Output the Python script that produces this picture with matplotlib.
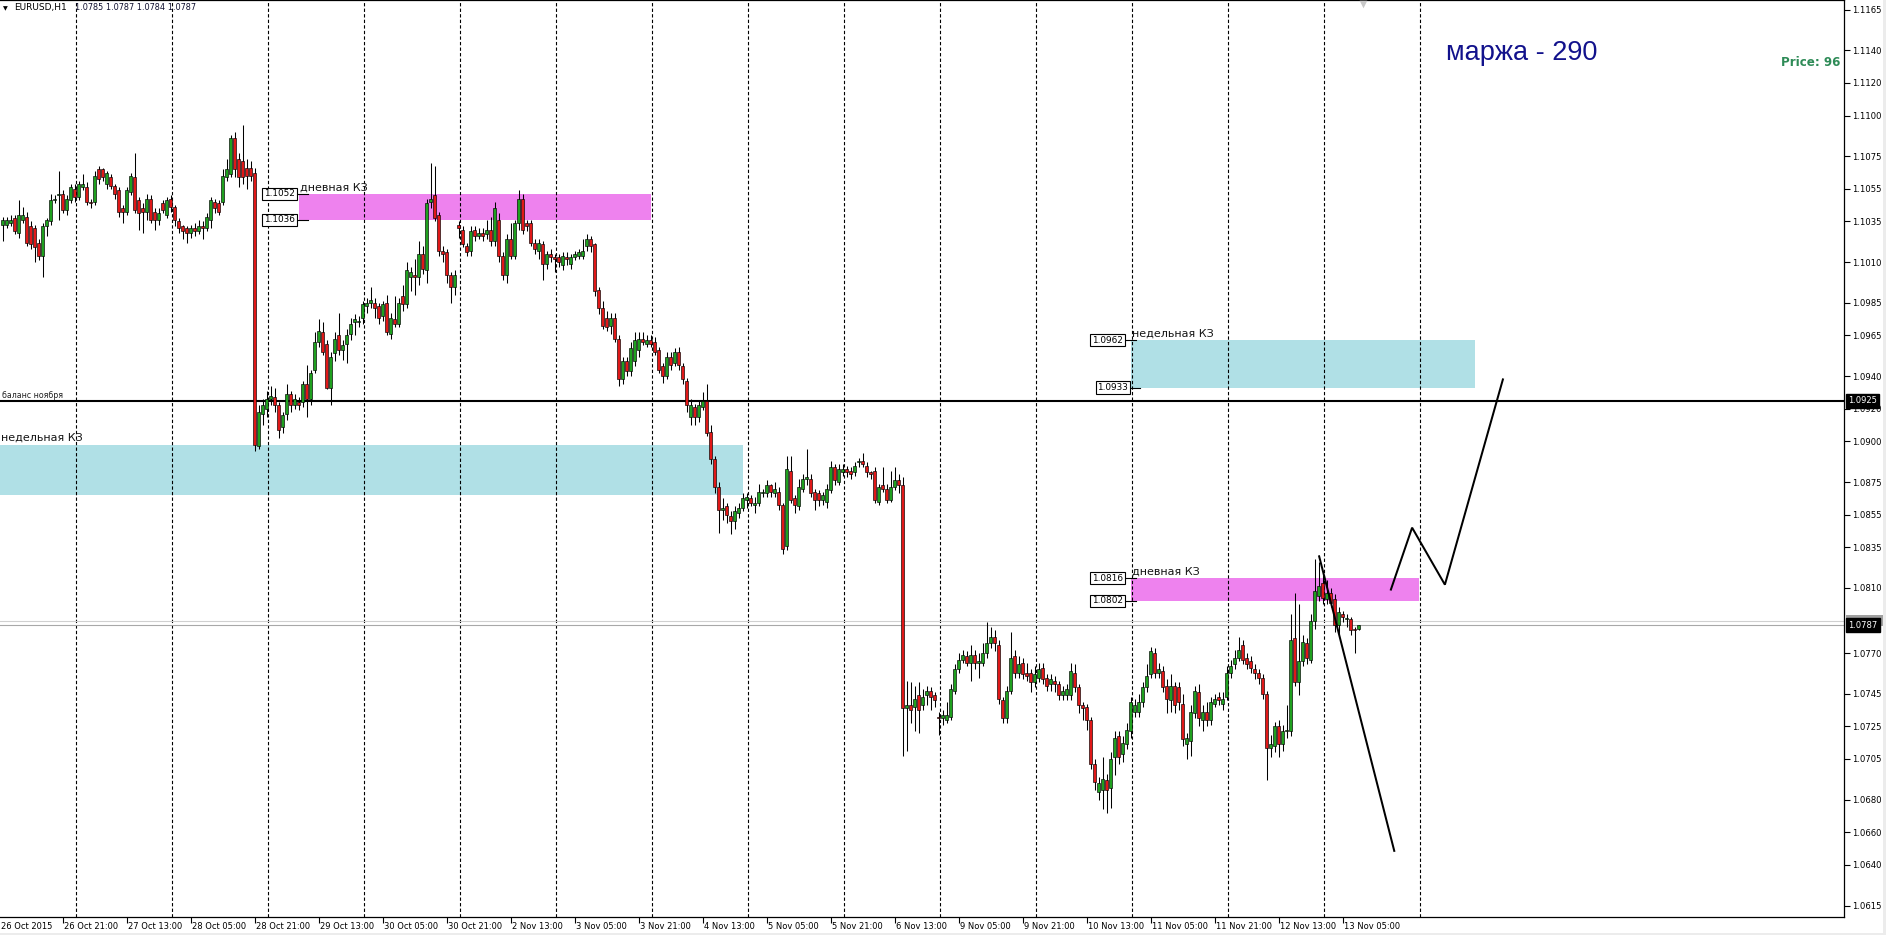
import matplotlib
matplotlib.use('Agg')
import matplotlib.pyplot as plt
from matplotlib.patches import Rectangle
from matplotlib.transforms import blended_transform_factory, ScaledTranslation

plt.rcParams['font.family'] = ['DejaVu Sans']
plt.rcParams['lines.scale_dashes'] = False

# ---------------- data ----------------
symbol = 'EURUSD,H1'
last_ohlc = ['1.0785', '1.0787', '1.0784', '1.0787']
first_bar = 1  # bar 0 = 26 Oct 05:00 (H1 bars, weekends skipped)

opens = [
    1.1033, 1.1033, 1.1034, 1.1037, 1.1028, 1.1036, 1.1038, 1.1032, 1.1031, 1.1022, 1.1014, 1.1032,
    1.1035, 1.1048, 1.1051, 1.1052, 1.1042, 1.1048, 1.1055, 1.1050, 1.1056, 1.1056, 1.1047, 1.1047,
    1.1067, 1.1067, 1.1058, 1.1062, 1.1057, 1.1054, 1.1043, 1.1041, 1.1053, 1.1062, 1.1048, 1.1043,
    1.1041, 1.1049, 1.1041, 1.1036, 1.1046, 1.1039, 1.1049, 1.1044, 1.1035, 1.1032, 1.1031, 1.1028,
    1.1031, 1.1029, 1.1032, 1.1031, 1.1036, 1.1047, 1.1046, 1.1047, 1.1062, 1.1064, 1.1086, 1.1073,
    1.1072, 1.1068, 1.1068, 1.1065, 1.0897, 1.0917, 1.0920, 1.0926, 1.0927, 1.0922, 1.0909, 1.0917,
    1.0929, 1.0922, 1.0924, 1.0924, 1.0935, 1.0926, 1.0944, 1.0961, 1.0967, 1.0960, 1.0933, 1.0954,
    1.0965, 1.0956, 1.0960, 1.0966, 1.0973, 1.0973, 1.0976, 1.0983, 1.0985, 1.0985, 1.0983, 1.0977,
    1.0985, 1.0966, 1.0975, 1.0972, 1.0989, 1.0984, 1.1001, 1.1002, 1.1001, 1.1015, 1.1005, 1.1047,
    1.1051, 1.1039, 1.1017, 1.1016, 1.1002, 1.0995, 1.1033, 1.1030, 1.1020, 1.1017, 1.1030, 1.1026,
    1.1028, 1.1027, 1.1030, 1.1023, 1.1036, 1.1014, 1.1002, 1.1024, 1.1014, 1.1034, 1.1049, 1.1034,
    1.1034, 1.1022, 1.1017, 1.1021, 1.1009, 1.1015, 1.1013, 1.1013, 1.1008, 1.1013, 1.1009, 1.1013,
    1.1014, 1.1014, 1.1020, 1.1024, 1.1021, 1.0993, 1.0982, 1.0976, 1.0971, 1.0976, 1.0963, 1.0938,
    1.0949, 1.0943, 1.0949, 1.0956, 1.0963, 1.0960, 1.0962, 1.0961, 1.0956, 1.0946, 1.0940, 1.0952,
    1.0948, 1.0955, 1.0946, 1.0937, 1.0915, 1.0921, 1.0915, 1.0921, 1.0925, 1.0906, 1.0889, 1.0872,
    1.0858, 1.0860, 1.0854, 1.0851, 1.0856, 1.0859, 1.0864, 1.0865, 1.0861, 1.0862, 1.0868, 1.0868,
    1.0873, 1.0868, 1.0869, 1.0861, 1.0836, 1.0882, 1.0865, 1.0860, 1.0871, 1.0877, 1.0877, 1.0869,
    1.0868, 1.0864, 1.0863, 1.0870, 1.0884, 1.0875, 1.0881, 1.0883, 1.0882, 1.0881, 1.0887, 1.0888,
    1.0885, 1.0881, 1.0882, 1.0863, 1.0873, 1.0871, 1.0864, 1.0872, 1.0876, 1.0873, 1.0736, 1.0738,
    1.0737, 1.0744, 1.0738, 1.0744, 1.0747, 1.0744, 1.0731, 1.0730, 1.0729, 1.0731, 1.0747, 1.0760,
    1.0766, 1.0768, 1.0764, 1.0769, 1.0764, 1.0764, 1.0770, 1.0776, 1.0780, 1.0775, 1.0741, 1.0730,
    1.0747, 1.0768, 1.0758, 1.0764, 1.0758, 1.0758, 1.0752, 1.0755, 1.0761, 1.0755, 1.0751, 1.0753,
    1.0751, 1.0744, 1.0744, 1.0744, 1.0758, 1.0749, 1.0738, 1.0737, 1.0729, 1.0702, 1.0685, 1.0686,
    1.0692, 1.0687, 1.0706, 1.0719, 1.0708, 1.0714, 1.0722, 1.0734, 1.0734, 1.0740, 1.0749, 1.0757,
    1.0770, 1.0758, 1.0759, 1.0750, 1.0741, 1.0750, 1.0749, 1.0739, 1.0714, 1.0716, 1.0733, 1.0746,
    1.0729, 1.0734, 1.0729, 1.0739, 1.0743, 1.0739, 1.0743, 1.0758, 1.0763, 1.0767, 1.0775, 1.0767,
    1.0765, 1.0760, 1.0758, 1.0755, 1.0745, 1.0712, 1.0713, 1.0725, 1.0714, 1.0722, 1.0722, 1.0779,
    1.0752, 1.0765, 1.0776, 1.0766, 1.0790, 1.0805, 1.0813, 1.0803, 1.0807, 1.0803, 1.0787, 1.0794,
    1.0791, 1.0791, 1.0785, 1.0785,
]
highs = [
    1.1038, 1.1038, 1.1039, 1.1039, 1.1048, 1.1044, 1.1041, 1.1035, 1.1033, 1.1024, 1.1034, 1.1037,
    1.1052, 1.1051, 1.1066, 1.1054, 1.1051, 1.1058, 1.1058, 1.1060, 1.1064, 1.1059, 1.1049, 1.1066,
    1.1069, 1.1068, 1.1066, 1.1064, 1.1058, 1.1056, 1.1045, 1.1056, 1.1065, 1.1077, 1.1050, 1.1046,
    1.1052, 1.1051, 1.1043, 1.1043, 1.1048, 1.1050, 1.1051, 1.1045, 1.1037, 1.1033, 1.1032, 1.1033,
    1.1034, 1.1036, 1.1035, 1.1040, 1.1050, 1.1049, 1.1048, 1.1067, 1.1073, 1.1088, 1.1090, 1.1077,
    1.1094, 1.1073, 1.1072, 1.1068, 1.0922, 1.0926, 1.0931, 1.0934, 1.0933, 1.0924, 1.0918, 1.0935,
    1.0931, 1.0929, 1.0927, 1.0937, 1.0947, 1.0944, 1.0967, 1.0975, 1.0973, 1.0962, 1.0955, 1.0967,
    1.0979, 1.0962, 1.0969, 1.0976, 1.0978, 1.0977, 1.0986, 1.0988, 1.0995, 1.0988, 1.0985, 1.0986,
    1.0990, 1.0979, 1.0989, 1.0988, 1.0996, 1.1010, 1.1007, 1.1012, 1.1023, 1.1020, 1.1049, 1.1071,
    1.1069, 1.1041, 1.1020, 1.1018, 1.1004, 1.1005, 1.1035, 1.1032, 1.1022, 1.1032, 1.1032, 1.1031,
    1.1031, 1.1036, 1.1038, 1.1047, 1.1040, 1.1016, 1.1027, 1.1034, 1.1036, 1.1054, 1.1052, 1.1036,
    1.1036, 1.1024, 1.1024, 1.1023, 1.1017, 1.1018, 1.1015, 1.1015, 1.1016, 1.1016, 1.1015, 1.1017,
    1.1018, 1.1024, 1.1027, 1.1026, 1.1022, 1.0995, 1.0986, 1.0980, 1.0979, 1.0979, 1.0965, 1.0952,
    1.0952, 1.0961, 1.0967, 1.0967, 1.0967, 1.0965, 1.0965, 1.0964, 1.0958, 1.0948, 1.0955, 1.0955,
    1.0957, 1.0958, 1.0948, 1.0939, 1.0926, 1.0923, 1.0925, 1.0930, 1.0935, 1.0910, 1.0891, 1.0875,
    1.0865, 1.0862, 1.0857, 1.0860, 1.0862, 1.0868, 1.0868, 1.0867, 1.0866, 1.0874, 1.0871, 1.0876,
    1.0874, 1.0875, 1.0872, 1.0862, 1.0891, 1.0891, 1.0867, 1.0877, 1.0880, 1.0895, 1.0880, 1.0871,
    1.0870, 1.0869, 1.0874, 1.0888, 1.0886, 1.0886, 1.0886, 1.0885, 1.0884, 1.0887, 1.0890, 1.0893,
    1.0887, 1.0882, 1.0884, 1.0874, 1.0884, 1.0874, 1.0882, 1.0884, 1.0880, 1.0878, 1.0753, 1.0752,
    1.0750, 1.0752, 1.0748, 1.0750, 1.0749, 1.0746, 1.0734, 1.0735, 1.0740, 1.0751, 1.0763, 1.0770,
    1.0772, 1.0771, 1.0775, 1.0772, 1.0770, 1.0776, 1.0789, 1.0786, 1.0784, 1.0778, 1.0743, 1.0750,
    1.0783, 1.0772, 1.0768, 1.0767, 1.0764, 1.0760, 1.0762, 1.0764, 1.0764, 1.0757, 1.0757, 1.0756,
    1.0753, 1.0750, 1.0751, 1.0764, 1.0763, 1.0751, 1.0740, 1.0739, 1.0731, 1.0705, 1.0694, 1.0706,
    1.0696, 1.0709, 1.0722, 1.0722, 1.0719, 1.0727, 1.0743, 1.0742, 1.0745, 1.0752, 1.0763, 1.0774,
    1.0773, 1.0764, 1.0762, 1.0754, 1.0757, 1.0752, 1.0752, 1.0745, 1.0721, 1.0738, 1.0750, 1.0751,
    1.0738, 1.0740, 1.0743, 1.0745, 1.0746, 1.0746, 1.0762, 1.0766, 1.0772, 1.0780, 1.0778, 1.0770,
    1.0768, 1.0763, 1.0760, 1.0757, 1.0747, 1.0720, 1.0728, 1.0729, 1.0726, 1.0738, 1.0794, 1.0807,
    1.0800, 1.0781, 1.0779, 1.0794, 1.0828, 1.0826, 1.0818, 1.0815, 1.0810, 1.0806, 1.0798, 1.0796,
    1.0794, 1.0792, 1.0786, 1.0787,
]
lows = [
    1.1023, 1.1031, 1.1032, 1.1027, 1.1025, 1.1034, 1.1020, 1.1018, 1.1010, 1.1011, 1.1001, 1.1026,
    1.1033, 1.1046, 1.1036, 1.1040, 1.1039, 1.1046, 1.1047, 1.1048, 1.1054, 1.1045, 1.1043, 1.1045,
    1.1058, 1.1060, 1.1055, 1.1055, 1.1049, 1.1038, 1.1034, 1.1039, 1.1051, 1.1040, 1.1030, 1.1028,
    1.1036, 1.1034, 1.1030, 1.1033, 1.1040, 1.1037, 1.1041, 1.1032, 1.1028, 1.1024, 1.1022, 1.1025,
    1.1026, 1.1027, 1.1024, 1.1029, 1.1031, 1.1040, 1.1039, 1.1045, 1.1060, 1.1062, 1.1062, 1.1056,
    1.1058, 1.1055, 1.1060, 1.0894, 1.0895, 1.0910, 1.0915, 1.0922, 1.0918, 1.0902, 1.0905, 1.0913,
    1.0918, 1.0920, 1.0919, 1.0921, 1.0915, 1.0922, 1.0942, 1.0958, 1.0953, 1.0932, 1.0922, 1.0949,
    1.0953, 1.0950, 1.0948, 1.0962, 1.0965, 1.0970, 1.0972, 1.0979, 1.0982, 1.0976, 1.0972, 1.0974,
    1.0965, 1.0963, 1.0970, 1.0970, 1.0980, 1.0982, 1.0992, 1.0990, 1.0996, 1.1003, 1.0997, 1.1043,
    1.1035, 1.1014, 1.1010, 1.0997, 1.0985, 1.0990, 1.1025, 1.1019, 1.1014, 1.1014, 1.1023, 1.1024,
    1.1023, 1.1024, 1.1020, 1.1020, 1.1010, 1.0999, 1.0997, 1.1012, 1.1012, 1.1030, 1.1027, 1.1029,
    1.1020, 1.1015, 1.1012, 1.0999, 1.1006, 1.1010, 1.1004, 1.1007, 1.1005, 1.1008, 1.1006, 1.1011,
    1.1012, 1.1012, 1.1017, 1.1016, 1.0989, 1.0978, 1.0969, 1.0968, 1.0966, 1.0961, 1.0934, 1.0935,
    1.0940, 1.0940, 1.0946, 1.0952, 1.0959, 1.0958, 1.0958, 1.0953, 1.0942, 1.0936, 1.0938, 1.0944,
    1.0946, 1.0944, 1.0935, 1.0918, 1.0910, 1.0910, 1.0912, 1.0919, 1.0903, 1.0886, 1.0868, 1.0844,
    1.0852, 1.0850, 1.0843, 1.0846, 1.0853, 1.0857, 1.0859, 1.0860, 1.0856, 1.0860, 1.0866, 1.0866,
    1.0866, 1.0866, 1.0858, 1.0831, 1.0833, 1.0862, 1.0856, 1.0858, 1.0869, 1.0873, 1.0866, 1.0858,
    1.0860, 1.0861, 1.0859, 1.0868, 1.0873, 1.0873, 1.0879, 1.0878, 1.0877, 1.0879, 1.0884, 1.0884,
    1.0878, 1.0877, 1.0862, 1.0861, 1.0869, 1.0862, 1.0863, 1.0870, 1.0868, 1.0707, 1.0710, 1.0727,
    1.0722, 1.0721, 1.0735, 1.0738, 1.0735, 1.0737, 1.0720, 1.0726, 1.0727, 1.0729, 1.0745, 1.0758,
    1.0764, 1.0762, 1.0753, 1.0760, 1.0755, 1.0762, 1.0767, 1.0773, 1.0771, 1.0739, 1.0727, 1.0727,
    1.0745, 1.0755, 1.0755, 1.0754, 1.0753, 1.0746, 1.0749, 1.0752, 1.0751, 1.0747, 1.0747, 1.0746,
    1.0741, 1.0741, 1.0741, 1.0741, 1.0746, 1.0733, 1.0729, 1.0723, 1.0699, 1.0686, 1.0680, 1.0674,
    1.0672, 1.0675, 1.0695, 1.0702, 1.0703, 1.0711, 1.0718, 1.0731, 1.0731, 1.0737, 1.0746, 1.0755,
    1.0755, 1.0755, 1.0746, 1.0733, 1.0734, 1.0733, 1.0735, 1.0713, 1.0705, 1.0707, 1.0730, 1.0725,
    1.0722, 1.0725, 1.0726, 1.0737, 1.0738, 1.0735, 1.0741, 1.0755, 1.0760, 1.0765, 1.0763, 1.0760,
    1.0758, 1.0754, 1.0751, 1.0742, 1.0692, 1.0706, 1.0709, 1.0706, 1.0710, 1.0718, 1.0719, 1.0750,
    1.0744, 1.0762, 1.0763, 1.0764, 1.0785, 1.0802, 1.0800, 1.0800, 1.0798, 1.0783, 1.0782, 1.0789,
    1.0786, 1.0781, 1.0770, 1.0784,
]
closes = [
    1.1036, 1.1036, 1.1036, 1.1029, 1.1039, 1.1039, 1.1022, 1.1021, 1.1019, 1.1014, 1.1032, 1.1036,
    1.1048, 1.1049, 1.1052, 1.1042, 1.1049, 1.1056, 1.1050, 1.1058, 1.1058, 1.1047, 1.1046, 1.1063,
    1.1061, 1.1062, 1.1065, 1.1057, 1.1052, 1.1041, 1.1041, 1.1054, 1.1063, 1.1042, 1.1040, 1.1041,
    1.1049, 1.1036, 1.1036, 1.1040, 1.1042, 1.1048, 1.1044, 1.1036, 1.1031, 1.1029, 1.1028, 1.1031,
    1.1029, 1.1032, 1.1031, 1.1038, 1.1048, 1.1043, 1.1041, 1.1063, 1.1067, 1.1086, 1.1067, 1.1062,
    1.1062, 1.1063, 1.1063, 1.0898, 1.0918, 1.0922, 1.0926, 1.0928, 1.0922, 1.0907, 1.0916, 1.0929,
    1.0922, 1.0926, 1.0922, 1.0935, 1.0926, 1.0942, 1.0961, 1.0968, 1.0955, 1.0933, 1.0952, 1.0963,
    1.0956, 1.0959, 1.0965, 1.0972, 1.0975, 1.0974, 1.0984, 1.0985, 1.0987, 1.0982, 1.0976, 1.0984,
    1.0967, 1.0976, 1.0972, 1.0985, 1.0984, 1.1005, 1.1004, 1.1001, 1.1015, 1.1006, 1.1046, 1.1049,
    1.1037, 1.1017, 1.1015, 1.1002, 1.0995, 1.1002, 1.1031, 1.1021, 1.1016, 1.1029, 1.1026, 1.1028,
    1.1026, 1.1030, 1.1023, 1.1043, 1.1014, 1.1002, 1.1024, 1.1014, 1.1034, 1.1049, 1.1030, 1.1032,
    1.1022, 1.1018, 1.1022, 1.1009, 1.1015, 1.1013, 1.1012, 1.1010, 1.1014, 1.1012, 1.1013, 1.1015,
    1.1016, 1.1017, 1.1024, 1.1020, 1.0992, 1.0982, 1.0971, 1.0970, 1.0976, 1.0963, 1.0938, 1.0949,
    1.0943, 1.0957, 1.0962, 1.0963, 1.0961, 1.0962, 1.0960, 1.0955, 1.0944, 1.0940, 1.0952, 1.0947,
    1.0955, 1.0947, 1.0938, 1.0922, 1.0922, 1.0915, 1.0922, 1.0925, 1.0905, 1.0889, 1.0872, 1.0858,
    1.0859, 1.0855, 1.0851, 1.0857, 1.0859, 1.0865, 1.0866, 1.0862, 1.0862, 1.0869, 1.0869, 1.0873,
    1.0869, 1.0871, 1.0861, 1.0834, 1.0883, 1.0864, 1.0861, 1.0872, 1.0877, 1.0878, 1.0868, 1.0864,
    1.0864, 1.0867, 1.0871, 1.0884, 1.0876, 1.0883, 1.0883, 1.0881, 1.0880, 1.0885, 1.0888, 1.0886,
    1.0881, 1.0880, 1.0864, 1.0872, 1.0871, 1.0864, 1.0872, 1.0876, 1.0873, 1.0736, 1.0738, 1.0735,
    1.0742, 1.0735, 1.0743, 1.0747, 1.0743, 1.0741, 1.0730, 1.0732, 1.0732, 1.0748, 1.0760, 1.0766,
    1.0769, 1.0764, 1.0769, 1.0764, 1.0765, 1.0770, 1.0776, 1.0780, 1.0776, 1.0742, 1.0730, 1.0747,
    1.0767, 1.0758, 1.0763, 1.0757, 1.0756, 1.0752, 1.0757, 1.0760, 1.0754, 1.0750, 1.0754, 1.0751,
    1.0744, 1.0747, 1.0748, 1.0759, 1.0749, 1.0738, 1.0736, 1.0729, 1.0702, 1.0691, 1.0690, 1.0693,
    1.0686, 1.0705, 1.0718, 1.0706, 1.0715, 1.0723, 1.0740, 1.0738, 1.0740, 1.0749, 1.0756, 1.0771,
    1.0758, 1.0760, 1.0749, 1.0742, 1.0750, 1.0738, 1.0740, 1.0717, 1.0718, 1.0734, 1.0747, 1.0730,
    1.0734, 1.0729, 1.0740, 1.0742, 1.0741, 1.0742, 1.0758, 1.0762, 1.0767, 1.0772, 1.0766, 1.0763,
    1.0761, 1.0758, 1.0755, 1.0745, 1.0712, 1.0714, 1.0725, 1.0714, 1.0722, 1.0723, 1.0778, 1.0752,
    1.0765, 1.0777, 1.0767, 1.0790, 1.0808, 1.0811, 1.0804, 1.0807, 1.0801, 1.0787, 1.0795, 1.0792,
    1.0791, 1.0784, 1.0784, 1.0787,
]

time_labels = ['26 Oct 2015', '26 Oct 21:00', '27 Oct 13:00', '28 Oct 05:00', '28 Oct 21:00',
               '29 Oct 13:00', '30 Oct 05:00', '30 Oct 21:00', '2 Nov 13:00', '3 Nov 05:00',
               '3 Nov 21:00', '4 Nov 13:00', '5 Nov 05:00', '5 Nov 21:00', '6 Nov 13:00',
               '9 Nov 05:00', '9 Nov 21:00', '10 Nov 13:00', '11 Nov 05:00', '11 Nov 21:00',
               '12 Nov 13:00', '13 Nov 05:00']
label_step = 16
day_start_bars = [19, 43, 67, 91, 115, 139, 163, 187, 211, 235, 259, 283, 307, 331, 355]

price_ticks = [1.1165, 1.1140, 1.1120, 1.1100, 1.1075, 1.1055, 1.1035, 1.1010, 1.0985, 1.0965,
               1.0940, 1.0920, 1.0900, 1.0875, 1.0855, 1.0835, 1.0810, 1.0770, 1.0745, 1.0725,
               1.0705, 1.0680, 1.0660, 1.0640, 1.0615]

balance_level = 1.0925
balance_label = 'баланс ноября'
bid_price = 1.0787
ask_price = 1.0790

zone_names = ['недельная КЗ', 'дневная КЗ', 'недельная КЗ', 'дневная КЗ']
zone_start = [-30, 75, 283, 283]
zone_end = [186, 163, 369, 355]
zone_low = [1.0867, 1.1036, 1.0933, 1.0802]
zone_high = [1.0898, 1.1052, 1.0962, 1.0816]
zone_kind = ['weekly', 'daily', 'weekly', 'daily']

# price label objects: (price, bar where the label line ends, bar of the box right edge)
plabel_price = [1.1052, 1.1036, 1.0962, 1.0933, 1.0816, 1.0802]
plabel_end = [77.4, 77.4, 284.4, 285.4, 284.4, 284.4]
plabel_box = [74.6, 74.6, 281.6, 282.9, 281.6, 281.6]

# hand drawn trend lines (bar, price)
down_line_bars = [330.1, 349.0]
down_line_prices = [1.0830, 1.0648]
zigzag_bars = [348.1, 353.4, 361.6, 376.1]
zigzag_prices = [1.0809, 1.0847, 1.0812, 1.0938]

margin_text = 'маржа - 290'
price_text = 'Price: 96'

# ---------------- figure ----------------
W, H = 1886, 935
fig = plt.figure(figsize=(W / 100, H / 100), dpi=100, facecolor='white')
AX_R, AX_B = 1844, 917
ax = fig.add_axes([0, (H - AX_B) / H, AX_R / W, AX_B / H])
ax.set_facecolor('white')
ax.set_xlim(0.375, 0.375 + AX_R / 4.0)
ax.set_ylim(1.06080, 1.11709)

def px(n):
    return n / 100.0

zone_colors = {'weekly': '#B0E0E6', 'daily': '#EE82EE'}
for s, e, lo, hi, k in zip(zone_start, zone_end, zone_low, zone_high, zone_kind):
    ax.add_patch(Rectangle((s, lo), e - s, hi - lo, facecolor=zone_colors[k],
                           edgecolor='none', zorder=1))

# day separators
for b in day_start_bars:
    ax.axvline(b + 0.3, color='black', lw=0.8, ls=(0, (2.4, 1.6)), zorder=2)

# horizontal lines
ax.axhline(balance_level, color='black', lw=1.5, zorder=2.5)
ax.axhline(ask_price, color='#d0d0d0', lw=0.8, zorder=2.2)
ax.axhline(bid_price, color='#a8a8a8', lw=0.8, zorder=2.2)

# candles
xs = list(range(first_bar, first_bar + len(opens)))
ax.vlines(xs, lows, highs, colors='black', lw=0.75, zorder=3)
bottoms = [min(o, c) for o, c in zip(opens, closes)]
heights = [max(abs(c - o), 0.00003) for o, c in zip(opens, closes)]
cols = ['#1fa01f' if c >= o else '#e01818' for o, c in zip(opens, closes)]
ax.bar(xs, heights, bottom=bottoms, width=0.72, color=cols, edgecolor='black',
       linewidth=0.45, zorder=4)

# trend lines
ax.plot(down_line_bars, down_line_prices, color='black', lw=1.45, zorder=5,
        solid_capstyle='butt')
ax.plot(zigzag_bars, zigzag_prices, color='black', lw=1.45, zorder=5,
        solid_joinstyle='miter')

# zone names
xmin = ax.get_xlim()[0]
for s, hi, name in zip(zone_start, zone_high, zone_names):
    ax.text(max(s, xmin), hi, name, fontsize=8.0, color='#151515', ha='left',
            va='baseline', zorder=6,
            transform=ax.transData + ScaledTranslation(px(1), px(3.5), fig.dpi_scale_trans))

# price label boxes
for p, e, bx in zip(plabel_price, plabel_end, plabel_box):
    ax.plot([bx, e], [p, p], color='black', lw=0.8, zorder=6)
    ax.text(bx, p, f'{p:.4f}', fontsize=6.4, ha='right', va='center', zorder=7,
            transform=ax.transData + ScaledTranslation(px(-2), 0, fig.dpi_scale_trans),
            bbox=dict(boxstyle='square,pad=0.18', facecolor='white', edgecolor='black',
                      linewidth=0.8))

# balance label
ax.text(xmin, balance_level, balance_label, fontsize=5.7, color='#222222', ha='left',
        va='baseline', zorder=6,
        transform=ax.transData + ScaledTranslation(px(2), px(2.5), fig.dpi_scale_trans))

# axes styling
ax.spines['left'].set_visible(False)
for side in ['top', 'right', 'bottom']:
    ax.spines[side].set_color('black')
    ax.spines[side].set_linewidth(0.9)

ax.yaxis.tick_right()
ax.set_yticks(price_ticks, labels=[f'{p:.4f}' for p in price_ticks])
ax.tick_params(axis='y', direction='out', length=4, width=0.8, pad=2,
               labelsize=6.1, colors='black')

tick_bars = [i * label_step for i in range(len(time_labels))]
ax.set_xticks([b for b in tick_bars if b >= xmin])
ax.tick_params(axis='x', direction='out', length=4, width=0.8, labelbottom=False)
xtrans = blended_transform_factory(ax.transData, ax.transAxes)
for b, lab in zip(tick_bars, time_labels):
    ax.text(max(b, xmin), 0, lab, fontsize=6.0, ha='left', va='center', clip_on=False,
            transform=xtrans + ScaledTranslation(px(1.5), px(-9.5), fig.dpi_scale_trans))

# highlighted axis labels
ytrans = blended_transform_factory(ax.transAxes, ax.transData)

# ask price marker on the axis: its label is hidden behind the bid label
ask_box_h = 0.00062
ax.add_patch(Rectangle((1.0 + 1.5 / AX_R, ask_price - ask_box_h / 2), 37 / AX_R, ask_box_h,
                       transform=ytrans, facecolor='#a0a0a0', edgecolor='none',
                       clip_on=False, zorder=7))

def axis_box(p, text, bg):
    ax.text(1.0, p, text, fontsize=6.0, color='white', ha='left', va='center',
            clip_on=False, zorder=8,
            transform=ytrans + ScaledTranslation(px(4), 0, fig.dpi_scale_trans),
            bbox=dict(boxstyle='square,pad=0.3', facecolor=bg, edgecolor=bg))

axis_box(bid_price, f'{bid_price:.4f}', 'black')
axis_box(balance_level, f'{balance_level:.4f}', 'black')

# header
fig.text(3 / W, 1 - 10 / H, '▼', fontsize=4.5, color='black', va='baseline')
fig.text(14 / W, 1 - 10 / H, symbol, fontsize=6.5, color='black', va='baseline')
fig.text(75 / W, 1 - 10 / H, ' '.join(last_ohlc), fontsize=5.9, color='#101030',
         va='baseline')

# shift marker
ax.scatter([1363 / AX_R], [1 - 3.5 / AX_B], marker='v', s=30, color='#c8c8c8',
           transform=ax.transAxes, zorder=9, clip_on=False, linewidths=0)

# annotations
fig.text(1446 / W, 1 - 60 / H, margin_text, fontsize=19.5, family='Liberation Sans',
         color='#12128c', va='baseline', ha='left')
fig.text(1840.5 / W, 1 - 66.5 / H, price_text, fontsize=8.6, fontweight='bold',
         color='#2e8b57', va='baseline', ha='right')

# window edges
fig.add_artist(Rectangle((1883 / W, 0), 3 / W, 1, transform=fig.transFigure,
                         facecolor='#ececec', edgecolor='none'))
fig.add_artist(Rectangle((0, 0), 1, 2 / H, transform=fig.transFigure,
                         facecolor='#ececec', edgecolor='none'))

fig.savefig('out.png', dpi=100, facecolor='white')
